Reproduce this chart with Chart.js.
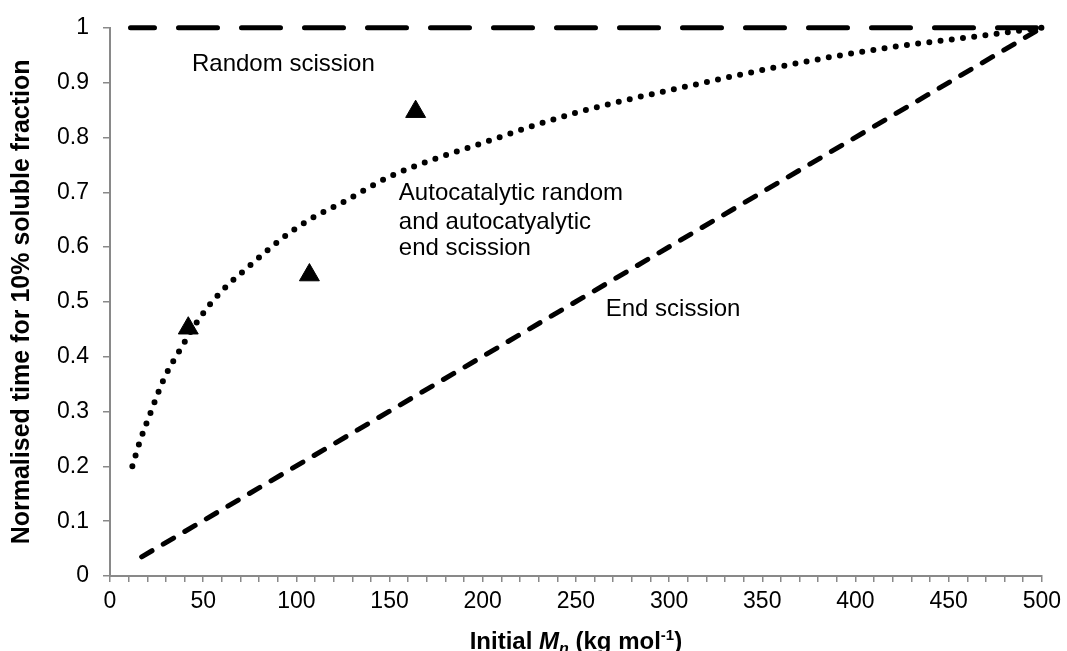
<!DOCTYPE html>
<html>
<head>
<meta charset="utf-8">
<script src="https://cdn.jsdelivr.net/npm/chart.js@4"></script>
<style>
  body { margin: 0; background: #fff; }
  #wrap { width: 1067px; height: 651px; }
</style>
</head>
<body>
<div id="wrap"><canvas id="chart"></canvas></div>
<script>
// values
const randomX = [11, 500];
const randomY = [1, 1];

const endX = [17, 500];
const endY = [0.035, 1];

const autoX = [12, 16, 22, 29, 38, 48, 60, 73, 92, 107, 124, 151, 200, 250, 316, 365, 414, 464, 500];
const autoY = [0.2, 0.245, 0.3, 0.36, 0.415, 0.47, 0.52, 0.56, 0.615, 0.65, 0.68, 0.73, 0.79, 0.845, 0.898, 0.933, 0.962, 0.984, 1.0];

const measuredX = [42, 107, 164];
const measuredY = [0.452, 0.549, 0.847];

// annotation text: lines, left x value, y value of each line centre
const notes = [
  { lines: ["Random scission"], x: 44, y: [0.934] },
  { lines: ["Autocatalytic random", "and autocatyalytic", "end scission"], x: 155, y: [0.698, 0.645, 0.597] },
  { lines: ["End scission"], x: 266, y: [0.486] },
];

const fontFamily = '"Liberation Sans", Arial, sans-serif';
const axisGrey = "#898989";

function toPoints(xs, ys) {
  return xs.map((x, i) => ({ x: x, y: ys[i] }));
}

const notesPlugin = {
  id: "notes",
  afterDatasetsDraw(chart) {
    const ctx = chart.ctx;
    const sx = chart.scales.x;
    const sy = chart.scales.y;
    ctx.save();
    ctx.fillStyle = "#000";
    ctx.font = "24px " + fontFamily;
    ctx.textAlign = "left";
    ctx.textBaseline = "middle";
    notes.forEach((n) => {
      n.lines.forEach((line, i) => {
        ctx.fillText(line, sx.getPixelForValue(n.x), sy.getPixelForValue(n.y[i]));
      });
    });
    ctx.restore();
  },
};

// axis titles drawn by hand because of the italic / sub / superscript bits
const titlesPlugin = {
  id: "titles",
  afterDraw(chart) {
    const ctx = chart.ctx;
    const area = chart.chartArea;
    ctx.save();
    ctx.fillStyle = "#000";
    ctx.textBaseline = "alphabetic";
    ctx.textAlign = "left";

    const bold = "bold 24px " + fontFamily;
    const boldIt = "italic bold 24px " + fontFamily;
    const small = "bold 15px " + fontFamily;
    const smallIt = "italic bold 16px " + fontFamily;
    const parts = [
      { t: "Initial ", f: bold, dy: 0 },
      { t: "M", f: boldIt, dy: 0 },
      { t: "n", f: smallIt, dy: 5 },
      { t: " (kg mol", f: bold, dy: 0 },
      { t: "-1", f: small, dy: -9 },
      { t: ")", f: bold, dy: 0 },
    ];
    let total = 0;
    parts.forEach((p) => {
      ctx.font = p.f;
      p.w = ctx.measureText(p.t).width;
      total += p.w;
    });
    let x = (area.left + area.right) / 2 - total / 2;
    const base = 649;
    parts.forEach((p) => {
      ctx.font = p.f;
      ctx.fillText(p.t, x, base + p.dy);
      x += p.w;
    });

    ctx.translate(22, (area.top + area.bottom) / 2);
    ctx.rotate(-Math.PI / 2);
    ctx.font = "bold 25px " + fontFamily;
    ctx.textAlign = "center";
    ctx.textBaseline = "middle";
    ctx.fillText("Normalised time for 10% soluble fraction", 0, 0);
    ctx.restore();
  },
};

function render_chart(canvasId) {
  const canvas = document.getElementById(canvasId);

  new Chart(canvas, {
    type: "scatter",
    data: {
      datasets: [
        {
          label: "Random scission",
          data: toPoints(randomX, randomY),
          showLine: true,
          clip: false,
          borderColor: "#000",
          borderWidth: 5,
          borderDash: [39, 24],
          borderDashOffset: 15,
          borderCapStyle: "round",
          pointRadius: 0,
        },
        {
          label: "End scission",
          data: toPoints(endX, endY),
          showLine: true,
          clip: false,
          borderColor: "#000",
          borderWidth: 5,
          borderDash: [12, 13],
          borderCapStyle: "round",
          pointRadius: 0,
        },
        {
          label: "Autocatalytic",
          data: toPoints(autoX, autoY),
          showLine: true,
          clip: false,
          cubicInterpolationMode: "monotone",
          borderColor: "#000",
          borderWidth: 6,
          borderDash: [0, 11.3],
          borderCapStyle: "round",
          pointRadius: 0,
        },
        {
          label: "Measured",
          data: toPoints(measuredX, measuredY),
          showLine: false,
          clip: false,
          pointStyle: "triangle",
          pointRadius: 11.5,
          backgroundColor: "#000",
          borderColor: "#000",
          borderWidth: 1,
        },
      ],
    },
    options: {
      responsive: true,
      maintainAspectRatio: false,
      animation: false,
      layout: {
        padding: { left: 0, right: 22, top: 27, bottom: 0 },
      },
      plugins: {
        legend: { display: false },
        tooltip: { enabled: false },
      },
      scales: {
        x: {
          type: "linear",
          min: 0,
          max: 500,
          afterFit(scale) {
            scale.height = 75;
          },
          border: { color: axisGrey, width: 2 },
          grid: {
            drawOnChartArea: false,
            color: axisGrey,
            lineWidth: 1.5,
            tickLength: 6,
          },
          ticks: {
            stepSize: 10,
            autoSkip: false,
            maxRotation: 0,
            padding: 6,
            color: "#000",
            font: { family: fontFamily, size: 23 },
            callback: (v) => (v % 50 === 0 ? String(v) : ""),
          },
        },
        y: {
          type: "linear",
          min: 0,
          max: 1,
          afterFit(scale) {
            scale.width = 110;
          },
          border: { color: axisGrey, width: 2 },
          grid: {
            drawOnChartArea: false,
            color: axisGrey,
            lineWidth: 1.5,
            tickLength: 7,
          },
          ticks: {
            stepSize: 0.1,
            padding: 14,
            color: "#000",
            font: { family: fontFamily, size: 23 },
            callback: (v) => String(Math.round(v * 10) / 10),
          },
        },
      },
    },
    plugins: [notesPlugin, titlesPlugin],
  });
}

render_chart("chart");
</script>
</body>
</html>
